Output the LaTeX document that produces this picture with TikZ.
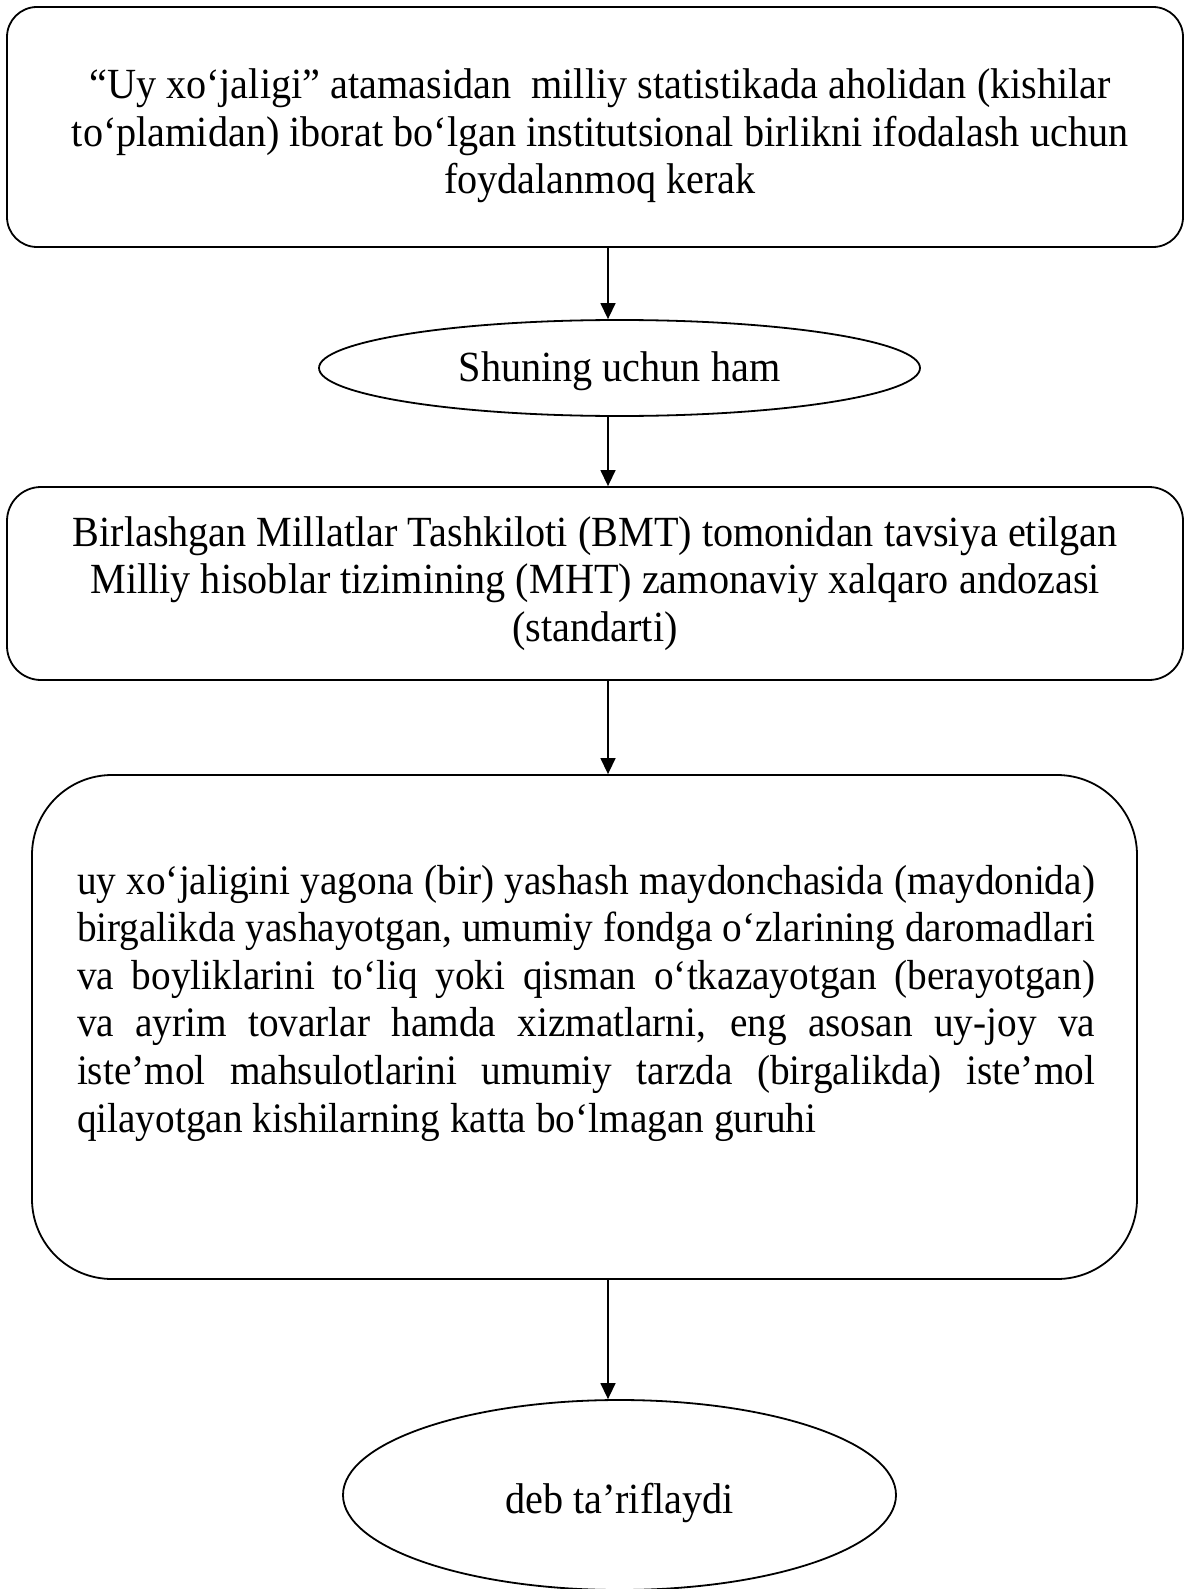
\documentclass[tikz,border=0pt]{standalone}
\usepackage{fontspec}
\setmainfont{Liberation Serif}[FakeStretch=0.935]
\usetikzlibrary{arrows.meta, positioning, shapes.geometric}
\newcommand{\ftxt}{\fontsize{21.5pt}{23.8pt}\selectfont}
\newcommand{\fdef}{\fontsize{21pt}{23.8pt}\selectfont}
\tikzset{
  rbox/.style={draw, rounded corners=15pt, line width=0.9pt, minimum width=588pt,
               inner sep=0pt, align=center, font=\ftxt},
  ovl/.style={ellipse, draw, line width=0.9pt, inner sep=0pt, font=\ftxt,
              text depth=4.7pt},
  arr/.style={-{Triangle[length=8pt, width=7.5pt]}, line width=0.7pt},
}
\hyphenpenalty=10000
\exhyphenpenalty=10000

\begin{document}
\begin{tikzpicture}[x=0.5pt, y=-0.5pt]
  \useasboundingbox (0,0) rectangle (1184,1589);

  % term box
  \node[rbox, minimum height=120pt] (term) at (595,127) {};
  \node[font=\ftxt, align=center, inner sep=0pt] (termtxt) at (600,136)
    {“Uy xo‘jaligi” atamasidan\ \ milliy statistikada aholidan (kishilar\\
     to‘plamidan) iborat bo‘lgan institutsional birlikni ifodalash uchun\\
     foydalanmoq kerak};

  % link
  \node[ovl, minimum width=300.5pt, minimum height=48pt, text height=17.8pt]
    (why) at (619.5,368) {Shuning uchun ham};

  % standard
  \node[rbox, minimum height=96.5pt, rounded corners=17pt] (sna) at (595,583.5)
    {Birlashgan Millatlar Tashkiloti (BMT) tomonidan tavsiya etilgan\\
     Milliy hisoblar tizimining (MHT) zamonaviy xalqaro andozasi\\
     (standarti)};

  % definition
  \node[rbox, minimum width=552.5pt, minimum height=252pt, rounded corners=40pt]
    (defbox) at (584.5,1027) {};
  \node[font=\fdef, text width=509pt, align=justify, inner sep=0pt] (deftxt) at (586,1003)
    {uy xo‘jaligini yagona (bir) yashash maydonchasida (maydonida)\linebreak
     birgalikda yashayotgan, umumiy fondga o‘zlarining daromadlari\linebreak
     va boyliklarini to‘liq yoki qisman o‘tkazayotgan (berayotgan)\linebreak
     va ayrim tovarlar hamda xizmatlarni, eng asosan uy-joy va\linebreak
     iste’mol mahsulotlarini umumiy tarzda (birgalikda) iste’mol\linebreak
     qilayotgan kishilarning katta bo‘lmagan guruhi};

  % end
  \node[ovl, minimum width=276.5pt, minimum height=95pt, text height=22.8pt]
    (fin) at (619.5,1495) {deb ta’riflaydi};

  % arrows
  \coordinate (ax) at (608,0);
  \draw[arr] (term.south -| ax) -- (why.north -| ax);
  \draw[arr] (why.south -| ax) -- (sna.north -| ax);
  \draw[arr] (sna.south -| ax) -- (defbox.north -| ax);
  \draw[arr] (defbox.south -| ax) -- (fin.north -| ax);
\end{tikzpicture}
\end{document}
